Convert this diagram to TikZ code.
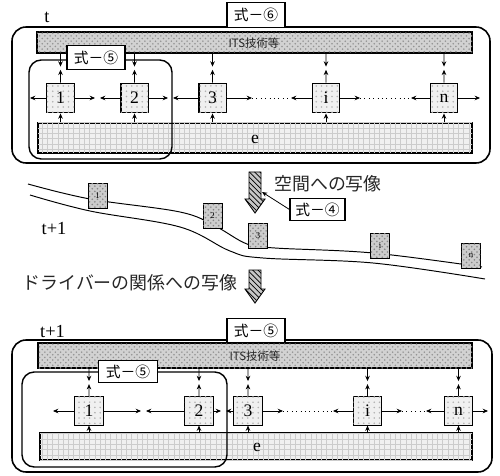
\documentclass[tikz,border=0pt]{standalone}
\usepackage{fontspec}
\setmainfont{Liberation Serif}
\newfontfamily\cjk{Noto Sans CJK JP}
\usetikzlibrary{patterns,arrows.meta,fit,calc}
\begin{document}
\begin{tikzpicture}[x=0.02cm,y=-0.02cm,
  frame/.style={draw, line width=0.9pt, rounded corners=8pt, inner sep=0pt},
  inframe/.style={draw, line width=0.8pt, rounded corners=7pt, inner sep=0pt},
  itsband/.style={draw, line width=0.6pt, fill=gray!35, postaction={pattern=crosshatch dots, pattern color=gray!85}, inner sep=0pt},
  eband/.style={draw, line width=0.6pt, fill=gray!12, postaction={pattern=grid, pattern color=gray!40}, inner sep=0pt},
  drv/.style={draw, line width=0.6pt, minimum width=15.4pt, minimum height=17pt, inner sep=0pt, fill=gray!12, postaction={pattern=dots, pattern color=gray!60}, font=\fontsize{10}{10}\selectfont},
  drvb/.style={drv, minimum width=16pt, minimum height=16pt},
  veh/.style={draw, line width=0.5pt, minimum width=10.8pt, minimum height=14.2pt, inner sep=0pt, fill=gray!40, postaction={pattern=crosshatch dots, pattern color=gray!95}, font=\fontsize{5}{5}\selectfont},
  lbl/.style={draw, line width=0.6pt, fill=white, font=\cjk\fontsize{8.4}{9}\selectfont, minimum width=33pt, minimum height=13.7pt, inner sep=1pt},
  itstxt/.style={font=\cjk\fontsize{6.5}{7}\selectfont, text=black!85},
  jcap/.style={font=\cjk\fontsize{10.2}{12}\selectfont, text=black!85},
  tlbl/.style={font=\fontsize{10.5}{11}\selectfont},
  arr/.style={-{Stealth[length=3pt,width=2.6pt]}, line width=0.45pt},
  dotl/.style={dotted, line width=0.5pt},
  road/.style={line width=0.55pt},
  hatch/.style={draw, line width=0.5pt, fill=gray!45, postaction={pattern=north west lines, pattern color=black}}
]
\useasboundingbox (0,0) rectangle (500,476);

% ===== top panel =====
\node[frame, fit={(12,27) (490,163)}] (F1) {};
\node[itsband, fit={(37,32) (472,53)}] (its1) {};
\node[itstxt] (itst1) at (254,43) {ITS技術等};
\node[eband, fit={(38,123) (472,153)}] (e1) {};
\node[font=\fontsize{10}{10}\selectfont] (et1) at (255,139) {e};
\node[inframe, fit={(29,60) (172,159)}] (G1) {};
\node[drv] (b1) at (60.5,98) {1};
\node[drv] (b2) at (134.5,98) {2};
\node[drv] (b3) at (212.5,98) {3};
\node[drv] (bi) at (326,98) {i};
\node[drv] (bn) at (444,98) {n};

\coordinate (h1l) at (30,98);
\coordinate (h12a) at (95,98);
\coordinate (h12b) at (100,98);
\coordinate (h23a) at (168,98);
\coordinate (h23b) at (173,98);
\coordinate (h3ia) at (252,98);
\coordinate (h3ib) at (291,98);
\coordinate (hina) at (360,98);
\coordinate (hinb) at (411,98);
\coordinate (hnr) at (480,98);
\draw[arr] (b1.west) -- (h1l);
\draw[arr] (b1.east) -- (h12a);
\draw[arr] (b2.west) -- (h12b);
\draw[arr] (b2.east) -- (h23a);
\draw[arr] (b3.west) -- (h23b);
\draw[arr] (b3.east) -- (h3ia);
\draw[dotl] (h3ia) -- (h3ib);
\draw[arr] (bi.west) -- (h3ib);
\draw[arr] (bi.east) -- (hina);
\draw[dotl] (hina) -- (hinb);
\draw[arr] (bn.west) -- (hinb);
\draw[arr] (bn.east) -- (hnr);
\foreach \b in {b1,b2,b3,bi,bn}{
  \draw[arr] (\b |- its1.south) -- ($(\b |- its1.south)!0.45!(\b.north)$);
  \draw[arr] (\b.north) -- ($(\b |- its1.south)!0.56!(\b.north)$);
  \draw[arr] (\b |- e1.north) -- (\b.south);
}
\node[lbl] (L6) at (256,15) {式－⑥};
\node[lbl] (L5a) at (96,57.5) {式－⑤};
\node[tlbl] (t1) at (47,17) {t};

% ===== middle: road =====
\draw[road] plot[smooth, tension=0.6] coordinates {(28,184) (90,199) (180,212) (215,226) (247,244) (275,248) (373,253) (482,267)};
\draw[road] plot[smooth, tension=0.6] coordinates {(30,195) (90,211) (180,227) (230,251) (263,258) (373,263) (485,279)};
\node[veh] (v1) at (97.5,195.5) {1};
\node[veh] (v2) at (212.5,215.5) {2};
\node[veh] (v3) at (258,235.5) {3};
\node[veh] (vi) at (380,245.5) {i};
\node[veh] (vn) at (471,255.5) {n};
\node[tlbl] (t2) at (54,229) {t+1};

\draw[hatch] (249,172) -- (261,172) -- (261,199) -- (265,199) -- (255,213) -- (245,199) -- (249,199) -- cycle;
\draw[hatch] (249,270) -- (261,270) -- (261,289) -- (265,289) -- (255,303) -- (245,289) -- (249,289) -- cycle;
\node[jcap] (cap1) at (328,184) {空間への写像};
\node[lbl, minimum width=31.3pt, minimum height=13pt] (L4) at (317.5,209.5) {式－④};
\coordinate (a4) at (262,192);
\draw[arr] (L4.west) -- (a4);
\node[jcap] (cap2) at (130,283) {ドライバーの関係への写像};

% ===== bottom panel =====
\node[frame, fit={(12,340) (492,472)}] (F2) {};
\node[itsband, fit={(38,343) (472,368)}] (its2) {};
\node[itstxt] (itst2) at (255,356) {ITS技術等};
\node[eband, fit={(40,433) (472,460)}] (e2) {};
\node[font=\fontsize{10}{10}\selectfont] (et2) at (257,447) {e};
\node[inframe, fit={(22,372) (227,467)}] (G2) {};
\node[drvb] (c1) at (89,411) {1};
\node[drvb] (c2) at (199,411) {2};
\node[drvb] (c3) at (248,411) {3};
\node[drvb] (ci) at (367.5,411) {i};
\node[drvb] (cn) at (458.5,411) {n};

\coordinate (k1l) at (53,411);
\coordinate (k12a) at (141,411);
\coordinate (k12b) at (146,411);
\coordinate (k23a) at (221,411);
\coordinate (k23b) at (226,411);
\coordinate (k3ia) at (283,411);
\coordinate (k3ib) at (333,411);
\coordinate (kina) at (402,411);
\coordinate (kinb) at (426,411);
\coordinate (knr) at (488,411);
\draw[arr] (c1.west) -- (k1l);
\draw[arr] (c1.east) -- (k12a);
\draw[arr] (c2.west) -- (k12b);
\draw[arr] (c2.east) -- (k23a);
\draw[arr] (c3.west) -- (k23b);
\draw[arr] (c3.east) -- (k3ia);
\draw[dotl] (k3ia) -- (k3ib);
\draw[arr] (ci.west) -- (k3ib);
\draw[arr] (ci.east) -- (kina);
\draw[dotl] (kina) -- (kinb);
\draw[arr] (cn.west) -- (kinb);
\draw[arr] (cn.east) -- (knr);
\foreach \b in {c1,c2,c3,ci,cn}{
  \draw[arr] (\b |- its2.south) -- ($(\b |- its2.south)!0.45!(\b.north)$);
  \draw[arr] (\b.north) -- ($(\b |- its2.south)!0.56!(\b.north)$);
  \draw[arr] (\b |- e2.north) -- (\b.south);
}
\node[lbl] (L5b) at (256,330.5) {式－⑤};
\node[lbl, minimum width=34pt, minimum height=13pt] (L5c) at (128,371.5) {式－⑤};
\node[tlbl] (t3) at (52.5,331) {t+1};
\end{tikzpicture}
\end{document}
